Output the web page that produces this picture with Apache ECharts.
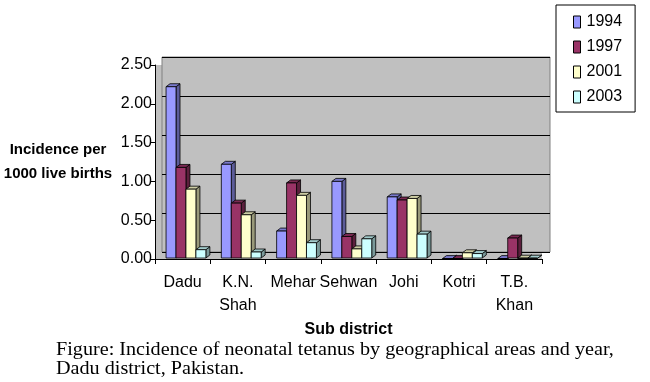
<!DOCTYPE html>
<html><head><meta charset="utf-8">
<script src="https://cdn.jsdelivr.net/npm/echarts@6/dist/echarts.min.js"></script>
<style>html,body{margin:0;padding:0;background:#fff}#c{width:650px;height:382px}</style>
</head><body><div id="c"></div>
<script>
const categories = ['Dadu', 'K.N.\nShah', 'Mehar', 'Sehwan', 'Johi', 'Kotri', 'T.B.\nKhan'];
const years = ['1994', '1997', '2001', '2003'];
const v1994 = [2.22, 1.22, 0.36, 1.00, 0.80, 0.005, 0.005];
const v1997 = [1.18, 0.72, 0.98, 0.29, 0.76, 0.005, 0.27];
const v2001 = [0.90, 0.57, 0.82, 0.13, 0.78, 0.08, 0.01];
const v2003 = [0.12, 0.09, 0.21, 0.26, 0.32, 0.07, 0.01];
const yTicks = [0, 0.5, 1.0, 1.5, 2.0, 2.5];
const colors = ['#9999ff', '#993366', '#ffffcc', '#ccffff'];
const seriesValues = [v1994, v1997, v2001, v2003];

function shade(hex, f) {
  const n = parseInt(hex.slice(1), 16);
  let r = (n >> 16) & 255, g = (n >> 8) & 255, b = n & 255;
  r = Math.round(r * f); g = Math.round(g * f); b = Math.round(b * f);
  return 'rgb(' + r + ',' + g + ',' + b + ')';
}

function makeRender(si) {
  return function (params, api) {
    const ci = api.value(0), val = api.value(1);
    const top = api.coord([ci, val]);
    const base = api.coord([ci, 0]);
    const band = api.size([1, 0])[0];
    const bw = band * 0.18;
    const x0 = top[0] - band * 0.30 + si * bw;
    const yT = top[1], yB = base[1] - 1;
    const dx = 4, dy = -3;
    const c = colors[si];
    return {
      type: 'group',
      children: [
        { type: 'polygon', shape: { points: [[x0 + bw, yT], [x0 + bw + dx, yT + dy], [x0 + bw + dx, yB + dy], [x0 + bw, yB]] },
          style: { fill: shade(c, 0.6), stroke: '#000', lineWidth: 0.8 } },
        { type: 'polygon', shape: { points: [[x0, yT], [x0 + dx, yT + dy], [x0 + bw + dx, yT + dy], [x0 + bw, yT]] },
          style: { fill: shade(c, 0.8), stroke: '#000', lineWidth: 0.8 } },
        { type: 'rect', shape: { x: x0, y: yT, width: bw, height: Math.max(yB - yT, 0) },
          style: { fill: c, stroke: '#000', lineWidth: 0.8 } }
      ]
    };
  };
}

const chart = echarts.init(document.getElementById('c'), null, { renderer: 'canvas' });
const font = 'Liberation Sans, Arial, sans-serif';
chart.setOption({
  animation: false,
  backgroundColor: '#fff',
  legend: {
    orient: 'vertical', left: 556, top: 5,
    padding: [9, 13, 7, 17], itemGap: 9,
    borderColor: '#000', borderWidth: 1,
    itemWidth: 7, itemHeight: 12,
    textStyle: { fontFamily: font, fontSize: 16, color: '#000', padding: [0, 0, 0, 1] },
    data: years.map((y, i) => ({ name: y, icon: 'rect', itemStyle: { color: colors[i], borderColor: '#000', borderWidth: 1 } }))
  },
  grid: [
    { left: 155, right: 108, top: 65, bottom: 123, show: true, backgroundColor: '#c0c0c0', borderWidth: 0 },
    { left: 162, right: 100, top: 57, bottom: 130, show: true, backgroundColor: '#c0c0c0', borderColor: '#808080', borderWidth: 1 }
  ],
  xAxis: [
    { type: 'category', gridIndex: 0, data: categories, boundaryGap: true,
      axisLine: { lineStyle: { color: '#000', width: 1 } },
      axisTick: { show: true, interval: 0, length: 5, lineStyle: { color: '#000' } },
      axisLabel: { interval: 0, color: '#000', fontFamily: font, fontSize: 16, lineHeight: 23, margin: 12 },
      name: 'Sub district', nameLocation: 'middle', nameGap: 62,
      nameTextStyle: { fontFamily: font, fontSize: 16, fontWeight: 'bold', color: '#000' } },
    { type: 'category', gridIndex: 1, data: categories, show: false }
  ],
  yAxis: [
    { type: 'value', gridIndex: 0, min: 0, max: 2.5, interval: 0.5,
      axisLine: { show: true, lineStyle: { color: '#000' } },
      axisTick: { show: true, inside: false, length: 4, lineStyle: { color: '#000' } },
      splitLine: { show: false },
      axisLabel: { color: '#000', fontFamily: font, fontSize: 16, margin: 3, formatter: v => v.toFixed(2) },
      name: 'Incidence per\n1000 live births', nameLocation: 'middle', nameRotate: 0, nameGap: 97,
      nameTextStyle: { fontFamily: font, fontSize: 15, fontWeight: 'bold', color: '#000', lineHeight: 24, align: 'center', padding: [6, 0, 0, 0] } },
    { type: 'value', gridIndex: 1, min: 0, max: 2.5, interval: 0.5, show: true,
      axisLine: { show: false }, axisTick: { show: false }, axisLabel: { show: false },
      splitLine: { show: true, lineStyle: { color: '#000', width: 1 } } }
  ],
  graphic: [
    { type: 'text', x: 56, y: 341, scaleX: 1.12, style: { text: 'Figure: Incidence of neonatal tetanus by geographical areas and year,\nDadu district, Pakistan.', fontFamily: 'Liberation Serif, Times New Roman, serif', fontSize: 18, lineHeight: 19, fill: '#000' } }
  ],
  series: years.map((y, si) => ({
    name: y, type: 'custom', xAxisIndex: 0, yAxisIndex: 0,
    itemStyle: { color: colors[si] },
    renderItem: makeRender(si),
    encode: { x: 0, y: 1 },
    data: seriesValues[si].map((v, i) => [i, v])
  }))
});
</script></body></html>
